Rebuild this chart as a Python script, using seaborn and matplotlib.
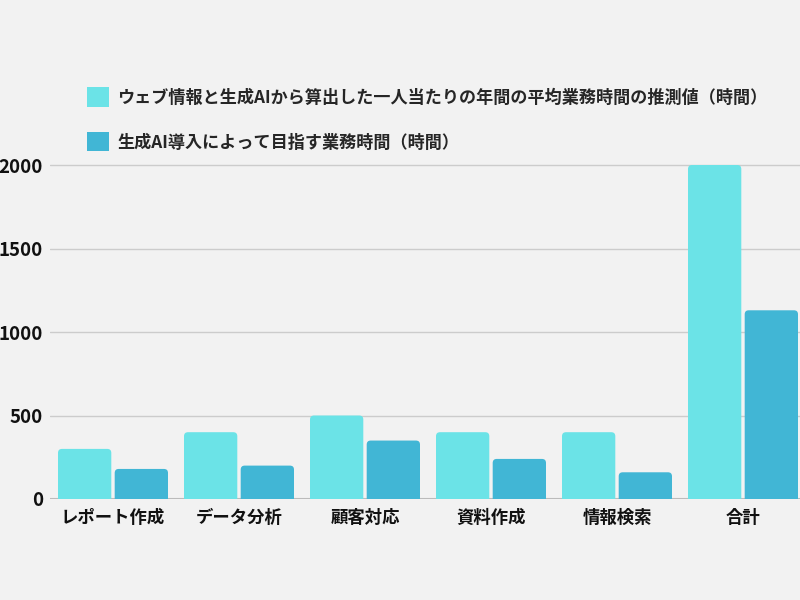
import matplotlib
matplotlib.use("Agg")
import matplotlib.pyplot as plt
import seaborn as sns
import pandas as pd
from matplotlib.patches import Patch, FancyBboxPatch

categories = ["レポート作成", "データ分析", "顧客対応", "資料作成", "情報検索", "合計"]
series_names = ["ウェブ情報と生成AIから算出した一人当たりの年間の平均業務時間の推測値（時間）",
                "生成AI導入によって目指す業務時間（時間）"]
estimated_hours = [300, 400, 500, 400, 400, 2000]
target_hours = [180, 200, 350, 240, 160, 1130]
y_ticks = [0, 500, 1000, 1500, 2000]
colors = ["#6be3e7", "#41b6d5"]

df = pd.DataFrame({
    "category": categories * 2,
    "series": [series_names[0]] * len(categories) + [series_names[1]] * len(categories),
    "hours": estimated_hours + target_hours,
})

sns.set_theme(style="white")
plt.rcParams["font.family"] = ["Noto Sans CJK JP", "DejaVu Sans"]

fig = plt.figure(figsize=(8, 6), dpi=100)
fig.patch.set_facecolor("#f2f2f2")
ymax = 2020
ax_h_px = 334 * ymax / 2000
ax_w_px = 756
ax = fig.add_axes([50 / 800, 101 / 600, ax_w_px / 800, ax_h_px / 600])
ax.set_facecolor("#f2f2f2")

sns.barplot(data=df, x="category", y="hours", hue="series", palette=colors,
            ax=ax, width=0.9, gap=0.06, saturation=1, legend=False,
            edgecolor="none", linewidth=0)

ax.set_ylim(0, ymax)
ax.set_xlim(-0.5, 5.5)

# rounded top corners
x_per_px = 6.0 / ax_w_px
y_per_px = ymax / ax_h_px
r_px = 4
for p in list(ax.patches):
    x, w, h = p.get_x(), p.get_width(), p.get_height()
    fc = p.get_facecolor()
    p.remove()
    fb = FancyBboxPatch((x, -r_px * y_per_px), w, h + r_px * y_per_px,
                        boxstyle=f"round,pad=0,rounding_size={r_px * x_per_px}",
                        mutation_aspect=y_per_px / x_per_px,
                        facecolor=fc, edgecolor="none", zorder=2)
    ax.add_patch(fb)

ax.set_yticks(y_ticks)
ax.set_yticklabels([str(t) for t in y_ticks], fontsize=13.5, fontweight="bold", color="#111111")
ax.set_xticks(range(len(categories)))
ax.set_xticklabels(categories, fontsize=12.5, fontweight="bold", color="#111111")
ax.tick_params(axis="y", length=0, pad=5)
ax.tick_params(axis="x", length=0, pad=7)
ax.set_xlabel("")
ax.set_ylabel("")
for t in y_ticks[1:]:
    ax.axhline(t, color="#cccccc", lw=1, zorder=0)
ax.axhline(0, color="#bbbbbb", lw=1.5, zorder=1)
for s in ax.spines.values():
    s.set_visible(False)
ax.set_axisbelow(True)

handles = [Patch(facecolor=colors[0], edgecolor="none"), Patch(facecolor=colors[1], edgecolor="none")]
fig.legend(handles, series_names, loc="upper left", bbox_to_anchor=(72 / 800, 1 - 72 / 600),
           frameon=False, handlelength=1.25, handleheight=1.35, handletextpad=0.5,
           labelspacing=1.5, prop={"family": ["Noto Sans CJK JP", "DejaVu Sans"], "weight": "bold", "size": 12.3})

fig.savefig("out.png", dpi=100, facecolor=fig.get_facecolor())
